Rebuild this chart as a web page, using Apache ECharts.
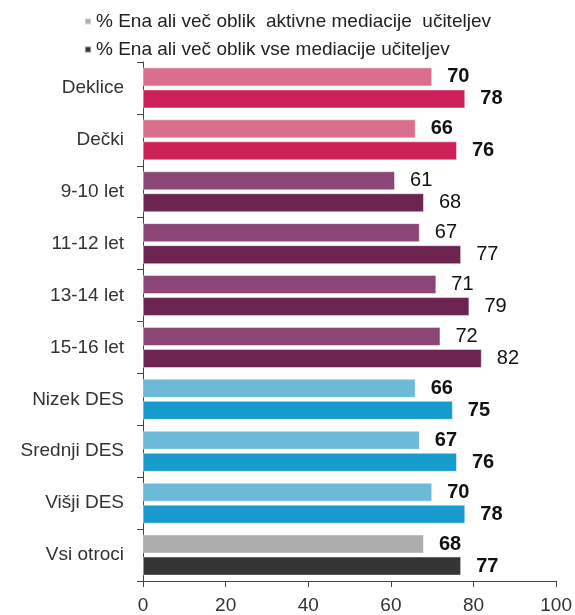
<!DOCTYPE html>
<html>
<head>
<meta charset="utf-8">
<script src="https://cdn.jsdelivr.net/npm/echarts@6/dist/echarts.min.js"></script>
<style>
html,body{margin:0;padding:0;background:#fff;}
#chart{width:575px;height:615px;}
</style>
</head>
<body>
<div id="chart"></div>
<script>
var categories = ['Deklice','Dečki','9-10 let','11-12 let','13-14 let','15-16 let','Nizek DES','Srednji DES','Višji DES','Vsi otroci'];
var seriesNames = ['% Ena ali več oblik  aktivne mediacije  učiteljev','% Ena ali več oblik vse mediacije učiteljev'];
var activeValues = [70,66,61,67,71,72,66,67,70,68];
var allValues = [78,76,68,77,79,82,75,76,78,77];
var xTicks = [0,20,40,60,80,100];

var lightColors = ['#DA6E8F','#DA6E8F','#8B4576','#8B4576','#8B4576','#8B4576','#6CBAD9','#6CBAD9','#6CBAD9','#ADADAD'];
var darkColors  = ['#CD1F58','#CD1F58','#6D2451','#6D2451','#6D2451','#6D2451','#179BCE','#179BCE','#179BCE','#343434'];
var labelWeights = ['bold','bold','normal','normal','normal','normal','bold','bold','bold','bold'];

function buildData(values, colors){
  return values.map(function(v,i){
    return {
      value: v,
      itemStyle: {color: colors[i]},
      label: {fontWeight: labelWeights[i]}
    };
  });
}

var font = 'Arial, "Liberation Sans", sans-serif';
var chart = echarts.init(document.getElementById('chart'), null, {renderer:'canvas'});
var labelCfg = {
  show: true, position: 'right', distance: 15,
  fontSize: 20, color: '#111', fontFamily: font
};
chart.setOption({
  animation: false,
  backgroundColor: '#fff',
  legend: {
    orient: 'vertical', left: 84, top: 12, padding: 0,
    itemWidth: 6, itemHeight: 6, itemGap: 9,
    icon: 'rect',
    textStyle: {fontSize: 19, color: '#222', fontFamily: font},
    data: seriesNames
  },
  grid: {left: 143, right: 15, top: 62, bottom: 32, containLabel: false},
  xAxis: {
    type: 'value', min: xTicks[0], max: xTicks[xTicks.length-1], interval: 20,
    axisLine: {show: true, lineStyle: {color: '#444', width: 1}},
    axisTick: {show: true, length: 6, lineStyle: {color: '#444'}},
    splitLine: {show: false},
    axisLabel: {fontSize: 19, color: '#333', margin: 15, fontFamily: font}
  },
  yAxis: {
    type: 'category', data: categories, inverse: true,
    axisLine: {show: true, lineStyle: {color: '#444', width: 1}},
    axisTick: {show: true, length: 6, lineStyle: {color: '#444'}},
    axisLabel: {fontSize: 19, color: '#333', margin: 19, fontFamily: font}
  },
  series: [
    {
      name: seriesNames[0], type: 'bar', barWidth: 19, barGap: '16%',
      itemStyle: {color: '#ADADAD', borderColor: 'rgba(255,255,255,0.45)', borderWidth: 1},
      label: labelCfg,
      data: buildData(activeValues, lightColors)
    },
    {
      name: seriesNames[1], type: 'bar', barWidth: 19, barGap: '16%',
      itemStyle: {color: '#343434', borderColor: 'rgba(255,255,255,0.45)', borderWidth: 1},
      label: labelCfg,
      data: buildData(allValues, darkColors)
    }
  ]
});
</script>
</body>
</html>
